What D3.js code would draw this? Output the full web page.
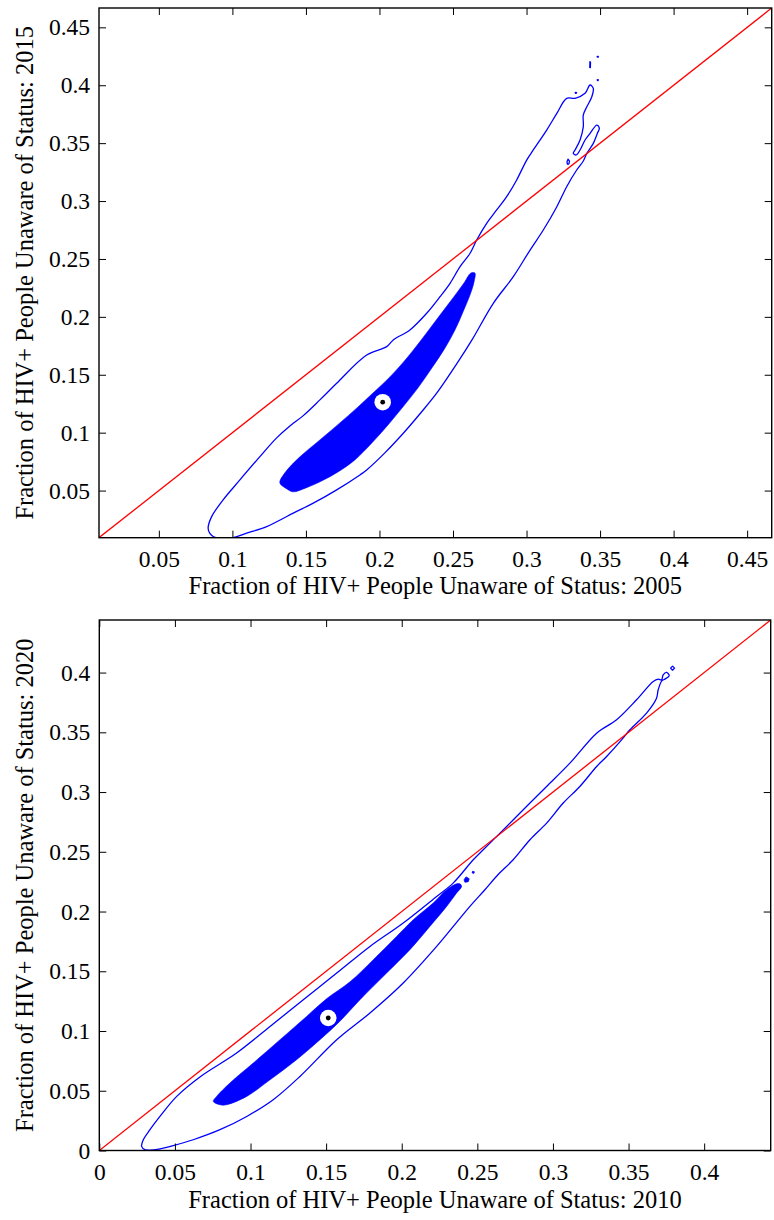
<!DOCTYPE html>
<html>
<head>
<meta charset="utf-8">
<script src="https://cdn.jsdelivr.net/npm/d3@7"></script>
<style>
  html, body { margin: 0; padding: 0; background: #fff; }
  svg { display: block; }
  text { font-family: "Liberation Serif", "Times New Roman", serif; fill: #000; }
</style>
</head>
<body>
<svg id="fig" width="774" height="1220"></svg>
<script>
// ---------- Panel 1: 2005 (x) vs 2015 (y) ----------
const topDomain = [0.0093, 0.4667];
const topTicks = [0.05, 0.1, 0.15, 0.2, 0.25, 0.3, 0.35, 0.4, 0.45];
const topTickLabels = ["0.05", "0.1", "0.15", "0.2", "0.25", "0.3", "0.35", "0.4", "0.45"];
const topXLabel = "Fraction of HIV+ People Unaware of Status: 2005";
const topYLabel = "Fraction of HIV+ People Unaware of Status: 2015";

// outer (wide) density contour
const topOuter = [
  [0.0835, 0.0175], [0.0847, 0.0130], [0.0869, 0.0103], [0.0888, 0.0094], [0.1003, 0.0094],
  [0.1097, 0.0132], [0.1233, 0.0189], [0.1414, 0.0305], [0.1550, 0.0391], [0.1709, 0.0506],
  [0.1867, 0.0635], [0.1913, 0.0678], [0.2040, 0.0830], [0.2162, 0.0995], [0.2280, 0.1170],
  [0.2389, 0.1341], [0.2534, 0.1611],
  [0.2629, 0.1801], [0.2774, 0.2117], [0.2910, 0.2347], [0.3024, 0.2577], [0.3114, 0.2750],
  [0.3206, 0.2951], [0.3273, 0.3124], [0.3341, 0.3268], [0.3386, 0.3346], [0.3410, 0.3412],
  [0.3454, 0.3498], [0.3482, 0.3585], [0.3495, 0.3628], [0.3478, 0.3656], [0.3432, 0.3585],
  [0.3398, 0.3527], [0.3364, 0.3441], [0.3337, 0.3398], [0.3318, 0.3412], [0.3330, 0.3441],
  [0.3364, 0.3527], [0.3386, 0.3642], [0.3386, 0.3743], [0.3410, 0.3814], [0.3444, 0.3901],
  [0.3454, 0.3973], [0.3432, 0.4002], [0.3398, 0.3930], [0.3330, 0.3887], [0.3273, 0.3887],
  [0.3206, 0.3757], [0.3137, 0.3613], [0.3046, 0.3441], [0.3001, 0.3354], [0.2933, 0.3182],
  [0.2865, 0.3038], [0.2797, 0.2923], [0.2729, 0.2808], [0.2661, 0.2664], [0.2616, 0.2549],
  [0.2548, 0.2433], [0.2480, 0.2290], [0.2412, 0.2174], [0.2321, 0.2031], [0.2207, 0.1887],
  [0.2094, 0.1801], [0.2049, 0.1743], [0.1913, 0.1671], [0.1709, 0.1427], [0.1595, 0.1283],
  [0.1480, 0.1145], [0.1391, 0.1058], [0.1301, 0.0955], [0.1187, 0.0793], [0.1051, 0.0592],
  [0.0937, 0.0420], [0.0859, 0.0275]
];
// small detached pieces of the outer contour
const topOuterIslands = [
  [[0.3482, 0.4250], [0.3487, 0.4250], [0.3487, 0.4242], [0.3482, 0.4242]],
  [[0.3431, 0.4203], [0.3435, 0.4200], [0.3434, 0.4152], [0.3430, 0.4154]],
  [[0.3482, 0.4049], [0.3487, 0.4049], [0.3487, 0.4041], [0.3482, 0.4041]],
  [[0.3333, 0.3939], [0.3338, 0.3939], [0.3338, 0.3931], [0.3333, 0.3931]],
  [[0.3282, 0.3362], [0.3292, 0.3345], [0.3288, 0.3320], [0.3278, 0.3318], [0.3275, 0.3340]]
];
// inner (dense) region, filled
const topCore = [
  [0.1323, 0.0566], [0.1357, 0.0653], [0.1459, 0.0791], [0.1595, 0.0937], [0.1731, 0.1084],
  [0.1847, 0.1214], [0.1949, 0.1334], [0.2071, 0.1481], [0.2187, 0.1645], [0.2310, 0.1844],
  [0.2412, 0.2016], [0.2500, 0.2163], [0.2575, 0.2293], [0.2622, 0.2379], [0.2649, 0.2379],
  [0.2643, 0.2302], [0.2616, 0.2190], [0.2568, 0.2043], [0.2514, 0.1888], [0.2446, 0.1732],
  [0.2357, 0.1560], [0.2262, 0.1387], [0.2160, 0.1223], [0.2058, 0.1067], [0.1949, 0.0912],
  [0.1833, 0.0765], [0.1718, 0.0661], [0.1609, 0.0584], [0.1500, 0.0523], [0.1412, 0.0489],
  [0.1371, 0.0514]
];
const topCoreIslands = [];
const topMode = [0.2022, 0.1263];

// ---------- Panel 2: 2010 (x) vs 2020 (y) ----------
const botDomain = [0, 0.444];
const botTicks = [0, 0.05, 0.1, 0.15, 0.2, 0.25, 0.3, 0.35, 0.4];
const botTickLabels = ["0", "0.05", "0.1", "0.15", "0.2", "0.25", "0.3", "0.35", "0.4"];
const botXLabel = "Fraction of HIV+ People Unaware of Status: 2010";
const botYLabel = "Fraction of HIV+ People Unaware of Status: 2020";

const botOuter = [
  [0.0280, 0.0034], [0.0302, 0.0007], [0.0423, 0.0019], [0.0489, 0.0040], [0.0621, 0.0090],
  [0.0798, 0.0174], [0.0975, 0.0285], [0.1150, 0.0425], [0.1327, 0.0620],
  [0.1570, 0.0927], [0.1790, 0.1151], [0.2010, 0.1402], [0.2231, 0.1708], [0.2451, 0.2043],
  [0.2550, 0.2182], [0.2636, 0.2308], [0.2737, 0.2433], [0.2848, 0.2601], [0.2958, 0.2740],
  [0.3068, 0.2908], [0.3178, 0.3047], [0.3289, 0.3214], [0.3355, 0.3298], [0.3454, 0.3437],
  [0.3509, 0.3521], [0.3619, 0.3661], [0.3685, 0.3786], [0.3696, 0.3856], [0.3720, 0.3931],
  [0.3740, 0.3945], [0.3769, 0.3973], [0.3751, 0.4001], [0.3729, 0.3981], [0.3718, 0.3939],
  [0.3696, 0.3945], [0.3663, 0.3925], [0.3553, 0.3772], [0.3421, 0.3605], [0.3289, 0.3493],
  [0.3112, 0.3242], [0.2958, 0.3047], [0.2848, 0.2908], [0.2694, 0.2712], [0.2539, 0.2517],
  [0.2473, 0.2433], [0.2340, 0.2238], [0.2231, 0.2126], [0.2010, 0.1904], [0.1790, 0.1708],
  [0.1570, 0.1485], [0.1349, 0.1262], [0.1129, 0.1038], [0.0908, 0.0816], [0.0670, 0.0620],
  [0.0512, 0.0453], [0.0401, 0.0285], [0.0335, 0.0174], [0.0291, 0.0090]
];
const botOuterIslands = [
  [[0.3791, 0.4054], [0.3804, 0.4037], [0.3791, 0.4020], [0.3778, 0.4037]]
];
const botCore = [
  [0.0754, 0.0411], [0.0798, 0.0383], [0.0842, 0.0383], [0.0975, 0.0453], [0.1129, 0.0592],
  [0.1305, 0.0760], [0.1459, 0.0927], [0.1590, 0.1080], [0.1724, 0.1262], [0.1900, 0.1485],
  [0.2054, 0.1680], [0.2186, 0.1875], [0.2297, 0.2043], [0.2363, 0.2155], [0.2396, 0.2210],
  [0.2385, 0.2232], [0.2363, 0.2232], [0.2297, 0.2182], [0.2208, 0.2071], [0.2076, 0.1931],
  [0.1966, 0.1791], [0.1812, 0.1597], [0.1658, 0.1412], [0.1503, 0.1270], [0.1371, 0.1122],
  [0.1195, 0.0927], [0.1018, 0.0732], [0.0864, 0.0565], [0.0776, 0.0453]
];
const botCoreIslands = [
  [[0.2425, 0.2290], [0.2446, 0.2275], [0.2440, 0.2250], [0.2418, 0.2245], [0.2412, 0.2265]],
  [[0.2468, 0.2337], [0.2480, 0.2333], [0.2478, 0.2320], [0.2466, 0.2322]]
];
const botMode = [0.1514, 0.1109];

// ---------- drawing ----------
const svg = d3.select("#fig");
svg.append("rect").attr("width", 774).attr("height", 1220).attr("fill", "#fff");

const BLUE = "#0000ff", RED = "#ff0000";
const SERIF = '"Liberation Serif", "Times New Roman", serif';
const TICK_FONT = 23.5, LABEL_FONT = 24.5;

function drawPanel(cfg) {
  const b = cfg.box;
  const x = d3.scaleLinear().domain(cfg.domain).range([b.left, b.right]);
  const y = d3.scaleLinear().domain(cfg.domain).range([b.bottom, b.top]);
  const g = svg.append("g");

  g.append("clipPath").attr("id", cfg.id)
    .append("rect").attr("x", b.left).attr("y", b.top)
    .attr("width", b.right - b.left).attr("height", b.bottom - b.top);
  const plot = g.append("g").attr("clip-path", `url(#${cfg.id})`);

  const smooth = d3.curveCatmullRomClosed.alpha(0.5);
  const ring = d3.line().x(d => x(d[0])).y(d => y(d[1])).curve(smooth);
  const poly = d3.line().x(d => x(d[0])).y(d => y(d[1])).curve(d3.curveLinearClosed);
  const seg = d3.line().x(d => x(d[0])).y(d => y(d[1]));

  // filled high-density region
  plot.append("path").datum(cfg.core).attr("d", ring).attr("fill", BLUE).attr("stroke", BLUE).attr("stroke-width", 0.6);
  plot.selectAll(null).data(cfg.coreIslands).join("path")
    .attr("d", poly).attr("fill", BLUE).attr("stroke", BLUE).attr("stroke-width", 0.8);

  // outer contour
  plot.append("path").datum(cfg.outer).attr("d", ring)
    .attr("fill", "none").attr("stroke", BLUE).attr("stroke-width", 1.3).attr("stroke-linejoin", "round");
  plot.selectAll(null).data(cfg.outerIslands).join("path")
    .attr("d", poly).attr("fill", "none").attr("stroke", BLUE).attr("stroke-width", 1.3).attr("stroke-linejoin", "round");

  // line of equality
  plot.append("path").datum([[cfg.domain[0], cfg.domain[0]], [cfg.domain[1], cfg.domain[1]]])
    .attr("d", seg).attr("fill", "none").attr("stroke", RED).attr("stroke-width", 1.3);

  // mode marker
  plot.append("circle").attr("cx", x(cfg.mode[0])).attr("cy", y(cfg.mode[1])).attr("r", 8.3).attr("fill", "#fff");
  plot.append("circle").attr("cx", x(cfg.mode[0])).attr("cy", y(cfg.mode[1])).attr("r", 2.4).attr("fill", "#000");

  const fmt = (d, i) => cfg.tickLabels[i];
  const style = sel => {
    sel.attr("font-family", SERIF).attr("font-size", TICK_FONT);
    sel.select(".domain").remove();
    sel.selectAll(".tick line").attr("stroke", "#000").attr("stroke-width", 1);
    sel.selectAll(".tick text").attr("fill", "#000")
      .style("font-family", SERIF).style("font-size", TICK_FONT + "px");
  };

  g.append("g").attr("transform", `translate(0,${b.bottom})`)
    .call(d3.axisBottom(x).tickValues(cfg.ticks).tickFormat(fmt).tickSize(-7).tickPadding(13)).call(style);
  g.append("g").attr("transform", `translate(0,${b.top})`)
    .call(d3.axisTop(x).tickValues(cfg.ticks).tickFormat("").tickSize(-7)).call(style);
  g.append("g").attr("transform", `translate(${b.left},0)`)
    .call(d3.axisLeft(y).tickValues(cfg.ticks).tickFormat(fmt).tickSize(-7).tickPadding(9)).call(style);
  g.append("g").attr("transform", `translate(${b.right},0)`)
    .call(d3.axisRight(y).tickValues(cfg.ticks).tickFormat("").tickSize(-7)).call(style);

  // frame
  g.append("rect").attr("x", b.left).attr("y", b.top)
    .attr("width", b.right - b.left).attr("height", b.bottom - b.top)
    .attr("fill", "none").attr("stroke", "#000").attr("stroke-width", 1.4);

  // axis titles
  g.append("text").attr("x", (b.left + b.right) / 2).attr("y", b.bottom + cfg.xTitleOffset)
    .attr("text-anchor", "middle").style("font-family", SERIF).style("font-size", LABEL_FONT + "px").text(cfg.xLabel);
  g.append("text").attr("transform", `translate(33,${(b.top + b.bottom) / 2}) rotate(-90)`)
    .attr("text-anchor", "middle").style("font-family", SERIF).style("font-size", LABEL_FONT + "px").text(cfg.yLabel);
}

drawPanel({
  id: "clip-top", domain: topDomain, ticks: topTicks, tickLabels: topTickLabels,
  box: { left: 99, right: 771.7, top: 8, bottom: 537.7 },
  outer: topOuter, outerIslands: topOuterIslands, core: topCore, coreIslands: topCoreIslands,
  mode: topMode, xLabel: topXLabel, yLabel: topYLabel, xTitleOffset: 56
});
drawPanel({
  id: "clip-bot", domain: botDomain, ticks: botTicks, tickLabels: botTickLabels,
  box: { left: 99.3, right: 770.7, top: 620, bottom: 1150.5 },
  outer: botOuter, outerIslands: botOuterIslands, core: botCore, coreIslands: botCoreIslands,
  mode: botMode, xLabel: botXLabel, yLabel: botYLabel, xTitleOffset: 57
});
</script>
</body>
</html>
